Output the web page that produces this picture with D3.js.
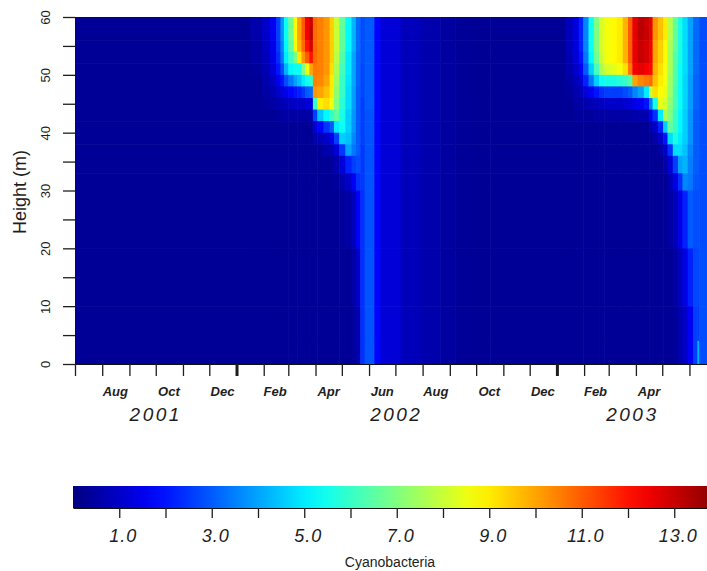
<!DOCTYPE html>
<html>
<head>
<meta charset="utf-8">
<script src="https://cdn.jsdelivr.net/npm/d3@7"></script>
<style>
  html, body { margin: 0; padding: 0; background: #ffffff; }
  svg { display: block; font-family: "Liberation Sans", Arial, sans-serif; }
</style>
</head>
<body>
<svg id="chart" width="707" height="571"></svg>
<script>
// Cyanobacteria concentration by height above the bottom, July 2001 – June 2003.
// Each profile starts on its sample date and holds until the next one.
const sampleDates = [
  "2001-07-01",
  "2002-01-17", "2002-01-30", "2002-02-08", "2002-02-15", "2002-02-20", "2002-02-24",
  "2002-03-01", "2002-03-07", "2002-03-11", "2002-03-16", "2002-03-20", "2002-03-25",
  "2002-03-29", "2002-04-03", "2002-04-10", "2002-04-17", "2002-04-22", "2002-04-28",
  "2002-05-05", "2002-05-12", "2002-05-17", "2002-05-22", "2002-05-27", "2002-06-07",
  "2002-06-14", "2002-07-07", "2002-07-30", "2002-08-21", "2002-09-07", "2002-09-24",
  "2002-10-17",
  "2003-01-11", "2003-01-19", "2003-01-26", "2003-01-31", "2003-02-06", "2003-02-12",
  "2003-02-18", "2003-02-24", "2003-03-03", "2003-03-10", "2003-03-17", "2003-03-23",
  "2003-03-28", "2003-04-03", "2003-04-10", "2003-04-16", "2003-04-20", "2003-04-26",
  "2003-05-02", "2003-05-07", "2003-05-13", "2003-05-19", "2003-05-24", "2003-05-30",
  "2003-06-05", "2003-06-10", "2003-06-12"
];
const lastDate = "2003-06-30";

// Layer boundaries (m above bottom), listed from the surface down
const heightEdges = [60, 58, 56, 54, 52, 50, 48, 46, 44, 42, 40, 38, 36, 33, 30, 20, 10, 4, 0];

// One profile per sample date, surface layer first
const cyanoProfiles = [
  [0.3,0.3,0.3,0.3,0.3,0.3,0.3,0.3,0.3,0.3,0.3,0.3,0.3,0.3,0.3,0.3,0.3,0.3],
  [0.6,0.6,0.5,0.5,0.4,0.3,0.3,0.3,0.3,0.3,0.3,0.3,0.3,0.3,0.3,0.3,0.3,0.3],
  [1.0,1.0,0.9,0.8,0.7,0.6,0.5,0.4,0.3,0.3,0.3,0.3,0.3,0.3,0.3,0.3,0.3,0.3],
  [1.6,1.6,1.5,1.4,1.2,0.9,0.7,0.5,0.3,0.3,0.3,0.3,0.3,0.3,0.3,0.3,0.3,0.3],
  [2.6,2.6,2.5,2.3,2.0,1.5,1.0,0.6,0.4,0.3,0.3,0.3,0.3,0.3,0.3,0.3,0.3,0.3],
  [3.8,3.8,3.6,3.4,2.8,2.0,1.2,0.7,0.5,0.3,0.3,0.3,0.3,0.3,0.3,0.3,0.3,0.3],
  [5.4,5.4,5.2,5.0,4.2,2.8,1.5,0.8,0.5,0.3,0.3,0.3,0.3,0.3,0.3,0.3,0.3,0.3],
  [6.8,6.8,6.6,6.0,5.2,3.4,1.8,0.9,0.5,0.3,0.3,0.3,0.3,0.3,0.3,0.3,0.3,0.3],
  [8.8,8.8,8.6,7.0,5.4,4.0,2.0,1.0,0.5,0.3,0.3,0.3,0.3,0.3,0.3,0.3,0.3,0.3],
  [10.0,10.0,9.8,9.0,5.5,4.4,2.2,1.0,0.5,0.3,0.3,0.3,0.3,0.3,0.3,0.3,0.3,0.3],
  [11.0,11.0,10.8,10.2,7.0,5.0,2.5,1.0,0.5,0.3,0.3,0.3,0.3,0.3,0.3,0.3,0.3,0.3],
  [12.4,12.4,12.0,11.0,8.5,5.5,3.0,1.2,0.5,0.3,0.3,0.3,0.3,0.3,0.3,0.3,0.3,0.3],
  [13.0,13.2,12.8,12.0,10.0,5.8,3.2,1.3,0.6,0.3,0.3,0.3,0.3,0.3,0.3,0.3,0.3,0.3],
  [10.8,10.8,10.8,10.8,10.6,10.5,10.2,6.0,2.6,1.2,0.6,0.3,0.3,0.3,0.3,0.3,0.3,0.3],
  [10.5,10.5,10.5,10.5,10.5,10.4,10.0,9.0,4.5,1.8,0.8,0.4,0.3,0.3,0.3,0.3,0.3,0.3],
  [10.2,10.2,10.2,10.2,10.2,10.0,9.6,9.2,5.2,2.5,1.0,0.6,0.3,0.3,0.3,0.3,0.3,0.3],
  [9.4,9.4,9.4,9.4,9.2,9.0,9.0,8.6,6.0,3.0,1.4,0.7,0.4,0.3,0.3,0.3,0.3,0.3],
  [8.0,8.0,8.0,7.8,7.6,7.4,7.2,7.0,6.5,5.0,2.6,1.2,0.6,0.4,0.3,0.3,0.3,0.3],
  [6.6,6.6,6.6,6.4,6.2,6.0,6.0,5.8,5.6,5.4,4.6,2.5,1.2,0.6,0.4,0.3,0.3,0.3],
  [5.2,5.2,5.2,5.0,5.0,4.9,4.8,4.8,4.6,4.6,4.4,4.0,2.2,1.0,0.5,0.3,0.3,0.3],
  [4.2,4.2,4.2,4.0,4.0,4.0,3.9,3.9,3.8,3.8,3.6,3.4,2.6,1.6,0.8,0.5,0.4,0.4],
  [3.2,3.2,3.2,3.1,3.1,3.1,3.0,3.0,3.0,3.0,3.0,3.0,2.8,2.4,1.6,1.0,0.7,0.6],
  [2.8,2.8,2.8,2.8,2.7,2.7,2.7,2.6,2.6,2.6,2.6,2.5,2.5,2.5,2.4,2.4,2.4,2.4],
  [3.0,3.0,3.0,3.0,3.0,3.0,3.0,3.0,2.9,2.9,2.9,2.9,2.9,2.9,2.9,2.9,2.9,2.9],
  [1.8,1.8,1.8,1.8,1.8,1.8,1.8,1.8,1.8,1.8,1.8,1.8,1.8,1.8,1.8,1.8,1.8,1.8],
  [1.2,1.2,1.2,1.2,1.2,1.2,1.2,1.2,1.2,1.2,1.2,1.2,1.2,1.2,1.2,1.2,1.2,1.2],
  [0.8,0.8,0.8,0.8,0.8,0.8,0.8,0.8,0.8,0.8,0.8,0.8,0.8,0.8,0.8,0.8,0.8,0.8],
  [0.6,0.6,0.6,0.6,0.6,0.6,0.6,0.6,0.6,0.6,0.6,0.6,0.6,0.6,0.6,0.6,0.6,0.6],
  [0.45,0.45,0.45,0.45,0.45,0.45,0.45,0.45,0.45,0.45,0.45,0.45,0.45,0.45,0.45,0.45,0.45,0.45],
  [0.35,0.35,0.35,0.35,0.35,0.35,0.35,0.35,0.35,0.35,0.35,0.35,0.35,0.35,0.35,0.35,0.35,0.35],
  [0.3,0.3,0.3,0.3,0.3,0.3,0.3,0.3,0.3,0.3,0.3,0.3,0.3,0.3,0.3,0.3,0.3,0.3],
  [0.3,0.3,0.3,0.3,0.3,0.3,0.3,0.3,0.3,0.3,0.3,0.3,0.3,0.3,0.3,0.3,0.3,0.3],
  [0.8,0.8,0.8,0.7,0.6,0.5,0.4,0.3,0.3,0.3,0.3,0.3,0.3,0.3,0.3,0.3,0.3,0.3],
  [1.3,1.3,1.3,1.2,1.0,0.8,0.6,0.5,0.4,0.3,0.3,0.3,0.3,0.3,0.3,0.3,0.3,0.3],
  [2.2,2.2,2.2,2.0,1.7,1.2,0.8,0.5,0.4,0.3,0.3,0.3,0.3,0.3,0.3,0.3,0.3,0.3],
  [3.6,3.6,3.6,3.4,3.0,2.2,1.2,0.6,0.4,0.3,0.3,0.3,0.3,0.3,0.3,0.3,0.3,0.3],
  [5.4,5.4,5.4,5.2,4.6,3.4,1.6,0.7,0.4,0.3,0.3,0.3,0.3,0.3,0.3,0.3,0.3,0.3],
  [7.0,7.0,7.0,6.8,6.2,4.6,2.0,0.8,0.5,0.3,0.3,0.3,0.3,0.3,0.3,0.3,0.3,0.3],
  [8.2,8.2,8.2,8.0,7.6,5.4,2.4,0.9,0.5,0.3,0.3,0.3,0.3,0.3,0.3,0.3,0.3,0.3],
  [8.6,8.6,8.6,8.6,8.2,5.6,2.6,1.0,0.5,0.3,0.3,0.3,0.3,0.3,0.3,0.3,0.3,0.3],
  [8.8,8.8,8.8,8.8,8.4,5.6,2.6,1.0,0.5,0.3,0.3,0.3,0.3,0.3,0.3,0.3,0.3,0.3],
  [9.0,9.0,9.0,9.0,8.6,5.8,2.6,1.0,0.5,0.3,0.3,0.3,0.3,0.3,0.3,0.3,0.3,0.3],
  [9.8,9.8,9.8,9.8,9.2,6.0,2.8,1.1,0.5,0.3,0.3,0.3,0.3,0.3,0.3,0.3,0.3,0.3],
  [11.0,11.0,11.0,11.0,10.6,6.4,3.0,1.2,0.5,0.3,0.3,0.3,0.3,0.3,0.3,0.3,0.3,0.3],
  [12.6,12.6,12.6,12.6,12.4,10.0,3.6,1.4,0.6,0.3,0.3,0.3,0.3,0.3,0.3,0.3,0.3,0.3],
  [13.2,13.2,13.0,13.0,12.6,10.4,4.0,1.6,0.6,0.3,0.3,0.3,0.3,0.3,0.3,0.3,0.3,0.3],
  [13.0,13.0,12.8,12.8,12.4,10.6,5.0,2.0,0.7,0.3,0.3,0.3,0.3,0.3,0.3,0.3,0.3,0.3],
  [12.6,12.6,12.4,12.4,12.2,10.8,8.0,3.5,1.5,0.6,0.3,0.3,0.3,0.3,0.3,0.3,0.3,0.3],
  [10.2,10.2,10.0,10.0,9.8,9.6,9.2,5.6,2.4,1.0,0.5,0.3,0.3,0.3,0.3,0.3,0.3,0.3],
  [9.6,9.6,9.4,9.4,9.2,9.0,8.8,8.4,5.0,2.2,1.0,0.5,0.3,0.3,0.3,0.3,0.3,0.3],
  [9.0,9.0,8.8,8.8,8.6,8.6,8.4,8.2,7.6,4.6,2.0,1.0,0.5,0.3,0.3,0.3,0.3,0.3],
  [7.8,7.8,7.6,7.6,7.6,7.4,7.4,7.2,7.0,6.6,4.8,2.4,1.2,0.7,0.5,0.3,0.3,0.3],
  [6.6,6.6,6.6,6.4,6.4,6.4,6.2,6.2,6.0,6.0,5.6,4.8,2.6,1.4,0.8,0.5,0.4,0.4],
  [5.6,5.6,5.6,5.6,5.4,5.4,5.4,5.4,5.2,5.2,5.0,4.8,4.0,2.4,1.4,0.8,0.6,0.6],
  [4.8,4.8,4.8,4.8,4.8,4.7,4.7,4.7,4.6,4.6,4.6,4.4,4.2,3.6,2.2,1.4,1.0,1.0],
  [4.0,4.0,4.0,4.0,4.0,3.9,3.9,3.9,3.8,3.8,3.8,3.6,3.5,3.4,3.0,2.2,1.6,1.6],
  [3.2,3.2,3.2,3.2,3.2,3.1,3.1,3.1,3.0,3.0,3.0,3.0,3.0,2.9,2.8,2.7,2.6,2.6],
  [3.2,3.2,3.2,3.2,3.2,3.1,3.1,3.1,3.0,3.0,3.0,3.0,3.0,2.9,2.8,2.7,2.6,4.2],
  [2.8,2.8,2.8,2.8,2.8,2.8,2.8,2.8,2.8,2.8,2.8,2.8,2.8,2.8,2.8,2.8,2.8,2.8]
];

// Axis annotation
const heightTicks = [0, 5, 10, 15, 20, 25, 30, 35, 40, 45, 50, 55, 60];
const monthLabels = [
  { date: "2001-08-16", text: "Aug" }, { date: "2001-10-16", text: "Oct" },
  { date: "2001-12-16", text: "Dec" }, { date: "2002-02-14", text: "Feb" },
  { date: "2002-04-16", text: "Apr" }, { date: "2002-06-16", text: "Jun" },
  { date: "2002-08-16", text: "Aug" }, { date: "2002-10-16", text: "Oct" },
  { date: "2002-12-16", text: "Dec" }, { date: "2003-02-14", text: "Feb" },
  { date: "2003-04-16", text: "Apr" }
];
const yearLabels = [
  { date: "2001-10-01", text: "2001" },
  { date: "2002-07-02", text: "2002" },
  { date: "2003-03-28", text: "2003" }
];
const colorbarTicks = [1, 2, 3, 4, 5, 6, 7, 8, 9, 10, 11, 12, 13];
const colorbarLabels = [1, 3, 5, 7, 9, 11, 13];

const parse = d3.timeParse("%Y-%m-%d");
const svg = d3.select("#chart");
const ink = "#1e1e1e";

const x = d3.scaleTime()
  .domain([parse("2001-07-01"), parse("2003-06-21")])
  .range([75, 707]);
const y = d3.scaleLinear().domain([0, 60]).range([364, 17]);

// Jet colour map over 0–14
const jet = d3.scaleLinear()
  .domain([0, 1.75, 5.25, 8.75, 12.25, 14])
  .range(["#000080", "#0000ff", "#00ffff", "#ffff00", "#ff0000", "#800000"])
  .clamp(true);

svg.append("clipPath").attr("id", "plot-clip")
  .append("rect").attr("x", 75).attr("y", 17).attr("width", 632).attr("height", 347);

// Heat map cells
const cells = [];
sampleDates.forEach((d, i) => {
  const t0 = parse(d);
  const t1 = parse(i + 1 < sampleDates.length ? sampleDates[i + 1] : lastDate);
  cyanoProfiles[i].forEach((v, j) => {
    cells.push({ t0, t1, top: heightEdges[j], bottom: heightEdges[j + 1], v });
  });
});

svg.append("g").attr("clip-path", "url(#plot-clip)")
  .selectAll("rect").data(cells).join("rect")
  .attr("x", c => x(c.t0))
  .attr("y", c => y(c.top))
  .attr("width", c => x(c.t1) - x(c.t0) + 0.6)
  .attr("height", c => y(c.bottom) - y(c.top) + 0.6)
  .attr("fill", c => jet(c.v));

// Height axis
const yAxis = svg.append("g").attr("transform", "translate(75,0)")
  .call(d3.axisLeft(y).tickValues(heightTicks).tickSize(12).tickSizeOuter(0)
    .tickFormat(d => d % 10 === 0 ? d : ""));
yAxis.select(".domain").remove();
yAxis.selectAll(".tick line").attr("stroke", ink).attr("stroke-width", 1.3);
yAxis.selectAll(".tick text")
  .attr("x", null).attr("dy", null)
  .attr("transform", "translate(-25,0) rotate(-90)")
  .attr("text-anchor", "middle")
  .attr("font-size", 13)
  .attr("fill", ink);

svg.append("text")
  .attr("transform", "translate(26,192) rotate(-90)")
  .attr("text-anchor", "middle")
  .attr("font-size", 18)
  .attr("fill", ink)
  .text("Height (m)");

// Time axis: a tick at every month start, heavier at the turn of the year
const months = d3.timeMonth.range(parse("2001-07-01"), parse("2003-06-21"));
const xAxis = svg.append("g").attr("transform", "translate(0,364)")
  .call(d3.axisBottom(x).tickValues(months).tickSize(12).tickSizeOuter(0).tickFormat(""));
xAxis.select(".domain").attr("stroke", "#111");
xAxis.selectAll(".tick line")
  .attr("stroke", ink)
  .attr("stroke-width", d => d.getMonth() === 0 ? 3 : 1.3);

svg.append("g").selectAll("text").data(monthLabels).join("text")
  .attr("x", d => x(parse(d.date)))
  .attr("y", 396)
  .attr("text-anchor", "middle")
  .attr("font-size", 13)
  .attr("font-weight", "bold")
  .attr("font-style", "italic")
  .attr("fill", ink)
  .text(d => d.text);

svg.append("g").selectAll("text").data(yearLabels).join("text")
  .attr("x", d => x(parse(d.date)))
  .attr("y", 421)
  .attr("text-anchor", "middle")
  .attr("font-size", 19)
  .attr("font-style", "italic")
  .attr("letter-spacing", 2.5)
  .attr("fill", ink)
  .text(d => d.text);

// Colour bar
const cb = d3.scaleLinear().domain([0, 14]).range([73, 720.5]);
const grad = svg.append("defs").append("linearGradient")
  .attr("id", "jet-grad").attr("gradientUnits", "userSpaceOnUse")
  .attr("x1", cb(0)).attr("x2", cb(14)).attr("y1", 0).attr("y2", 0);
d3.range(0, 14.01, 0.5).forEach(v => {
  grad.append("stop").attr("offset", v / 14).attr("stop-color", jet(v));
});
svg.append("rect")
  .attr("x", cb(0)).attr("y", 486)
  .attr("width", cb(14) - cb(0)).attr("height", 22)
  .attr("fill", "url(#jet-grad)");

const cbAxis = svg.append("g").attr("transform", "translate(0,508)")
  .call(d3.axisBottom(cb).tickValues(colorbarTicks).tickSize(10).tickSizeOuter(0).tickFormat(""));
cbAxis.select(".domain").attr("stroke", "#111");
cbAxis.selectAll(".tick line").attr("stroke", ink).attr("stroke-width", 1.3);

svg.append("g").selectAll("text").data(colorbarLabels).join("text")
  .attr("x", d => cb(d) + 4)
  .attr("y", 542)
  .attr("text-anchor", "middle")
  .attr("font-size", 18)
  .attr("font-style", "italic")
  .attr("letter-spacing", 1)
  .attr("fill", ink)
  .text(d => d3.format(".1f")(d));

svg.append("text")
  .attr("x", 390)
  .attr("y", 567)
  .attr("text-anchor", "middle")
  .attr("font-size", 14)
  .attr("fill", ink)
  .text("Cyanobacteria");
</script>
</body>
</html>
